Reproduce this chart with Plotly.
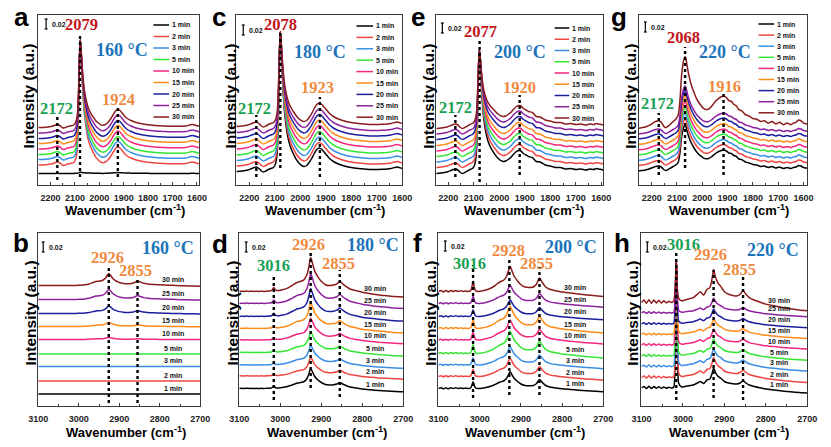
import numpy as np
import plotly.graph_objects as go

W, H = 831, 447

TIMES = ["1 min", "2 min", "3 min", "5 min", "10 min", "15 min", "20 min", "25 min", "30 min"]
COLORS = ["#000000", "#ee4540", "#3a8ee6", "#35e635", "#f2287e", "#ff8c1a",
          "#1d1d9e", "#8f209e", "#8a1c1c"]

# ---------------- wavenumber grids (cm-1) ----------------
X_TOP = [2250, 2235, 2220, 2205, 2190, 2180, 2172, 2162, 2152, 2145,
         2135, 2125, 2115, 2105, 2097, 2090, 2085, 2081, 2078, 2075,
         2071, 2066, 2060, 2052, 2044, 2035, 2025, 2015, 2005, 1995,
         1985, 1975, 1965, 1955, 1945, 1935, 1925, 1915, 1905, 1895,
         1885, 1870, 1855, 1840, 1820, 1800, 1780, 1760, 1740, 1720,
         1700, 1680, 1660, 1645, 1630, 1620, 1612, 1600, 1590, 1575,
         1560]
X_G = [2255, 2240, 2225, 2210, 2195, 2185, 2172, 2162, 2152, 2145,
       2135, 2125, 2115, 2105, 2095, 2088, 2082, 2076, 2072, 2068,
       2064, 2060, 2052, 2044, 2035, 2025, 2015, 2005, 1995, 1985,
       1975, 1965, 1955, 1945, 1935, 1925, 1916, 1905, 1895, 1885,
       1875, 1865, 1855, 1845, 1830, 1815, 1800, 1785, 1770, 1755,
       1740, 1725, 1710, 1695, 1680, 1665, 1650, 1640, 1630, 1620,
       1610, 1600, 1590, 1575, 1560]
X_BOT = [3100, 3094, 3088, 3082, 3076, 3070, 3064, 3058, 3052, 3046,
         3040, 3034, 3028, 3022, 3019, 3016, 3013, 3010, 3003, 2995,
         2985, 2975, 2965, 2958, 2950, 2942, 2935, 2930, 2926, 2922,
         2916, 2908, 2900, 2890, 2880, 2870, 2862, 2855, 2848, 2840,
         2830, 2815, 2800, 2780, 2760, 2740, 2720, 2700]

# ---------------- main band profiles (normalised) ----------------
PEAK_ACE = [0] * 14 + [0.02, 0.1, 0.4, 0.82, 1.0, 0.9, 0.7, 0.5, 0.34, 0.22,
                       0.14, 0.09, 0.055, 0.03, 0.015, 0.005] + [0] * 31
PEAK_G = [0] * 14 + [0.05, 0.3, 0.7, 0.9, 0.97, 1.0, 0.93, 0.8, 0.58, 0.42,
                     0.3, 0.2, 0.13, 0.08, 0.04, 0.02] + [0] * 35
PEAK_H = [0] * 14 + [0.25, 1.0, 0.25, 0.02] + [0] * 30
NO_PEAK = [0] * 48

# ---------------- background spectra (mAU) ----------------
A_SHAPE = [0, 0, 0.6, 1.4, 3, 5, 6, 4, 0, -1,
           1, 2.6, 3.4, 5, 7, 9, 10, 11, 12, 13,
           14, 15, 16, 16, 15, 14, 12, 9, 7, 5,
           4.6, 6, 10, 16, 24, 32, 36, 34, 28, 22,
           18, 14, 11, 9, 7, 5.4, 4.4, 3.6, 3, 2.6,
           2.4, 2.4, 2.6, 3, 5, 6, 5.4, 3.4, 2.4, 2, 2]
C_SHAPE = [0, 0.6, 1.6, 3, 6, 8, 9, 6, 1, -1,
           1, 4, 6, 8, 10, 13, 15, 17, 18, 19,
           20, 21, 22, 22, 22, 21, 19, 16, 13, 11,
           10, 12, 18, 26, 36, 44, 47, 44, 38, 32,
           26, 20, 16, 13, 10, 8, 6.4, 5.4, 4.6, 4,
           4, 4.4, 5, 6, 8, 9, 8, 6, 5, 4, 4]
E_SHAPE = [0, 0.6, 1.6, 3, 6, 8, 9, 7, 2, 0,
           2, 5, 8, 10, 12, 15, 18, 20, 22, 24,
           26, 28, 30, 32, 33, 33, 32, 30, 27, 25,
           24, 25, 28, 32, 38, 43, 46, 45, 40, 37,
           34, 32, 24, 23, 17, 15, 12, 12, 9, 10,
           8, 9, 7, 9, 8, 10, 9, 8, 7, 6, 6]
G_SHAPE = [0, 1, 2, 4, 7, 9, 10, 8, 3, 1,
           3, 6, 9, 12, 14, 16, 18, 20, 21, 22,
           23, 24, 26, 27, 27, 26, 25, 24, 23, 23,
           25, 28, 32, 36, 39, 41, 42, 40, 36, 35,
           31, 29, 24, 23, 18, 16, 13, 12, 9, 10,
           7, 9, 6, 8, 5, 7, 5, 7, 8, 11,
           10, 7, 6, 5, 4]
B_SHAPE = [0] * 18 + [0.4, 0.6, 1.4, 3, 6, 8, 8.6, 10, 14, 20,
                      24, 21, 14, 9, 6, 4, 3.4, 4, 6, 9.4,
                      7, 4.4, 3, 2, 1.4, 0.6, 0, -0.6, -1, -1.4]
D_SHAPE = [0, 0.4, 0, 0.6, 0, 0.4, 0, 0.4, 0, 0.4,
           0, 0.4, 0.6, 1, 2.5, 4.6, 2.5, 1.2, 1.2, 2,
           3.4, 6, 9, 11, 12, 14, 20, 30, 40, 34,
           24, 17, 12, 8, 7, 7.6, 9, 12, 9, 6,
           3, 1, -1, -2.6, -4, -5, -6, -6.6]
F_SHAPE = [0, 1.4, -0.6, 1.4, -0.6, 1.4, 0, 1.4, 0, 1,
           0, 0.6, 0, 1, 6, 13.4, 6, 1, 0, 0.6,
           2, 4, 7, 10, 13, 15, 20, 28, 33.4, 28,
           20, 14, 9, 6, 5.4, 6, 10, 18, 12, 6,
           3, 1, -0.6, -2, -3.4, -4.6, -5.6, -6.6]
H_SHAPE = [0, 3, -1, 3.4, -1, 3, -0.6, 2.6, -0.6, 2,
           -0.4, 1.4, 0, 2, 2, 2, 2, 4, 2, 3,
           4.6, 6, 10, 13, 9, 16, 18, 28, 40, 32,
           24, 19, 13, 10, 8.6, 8, 10, 14.6, 10, 6,
           3.4, 0.6, -2, -4, -6, -7.6, -9, -10]

# ---------------- per-series stacking offsets, scales, band heights (mAU) ----------------
A_OFFSET = [23, 40, 51, 61, 72, 83, 93, 104, 115]
A_SCALE = [0.05, 1, 1, 1, 1, 1, 1, 1, 1]
A_PEAKH = [2, 238, 227, 217, 206, 195, 185, 174, 163]
C_OFFSET = [27, 38, 49, 60, 72, 83, 94, 105, 117]
C_SCALE = [1, 1, 1, 1, 1, 1, 1, 1, 1]
C_PEAKH = [262, 251, 239, 228, 217, 206, 194, 183, 172]
E_OFFSET = [23, 35, 46, 57, 68, 79, 91, 102, 113]
E_SCALE = [1, 1, 1, 1, 1, 1, 1, 1, 1]
E_PEAKH = [225, 213, 202, 191, 180, 169, 157, 146, 135]
G_OFFSET = [28, 39, 49, 60, 70, 81, 92, 102, 113]
G_SCALE = [1, 1, 1, 1, 1, 1, 1, 1, 1.55]
G_PEAKH = [70, 72, 74, 74, 76, 76, 76, 74, 110]
B_OFFSET = [24, 50, 79, 104, 133, 159, 185, 213, 241]
B_SCALE = [0, 0, 0, 0, 0.17, 0.34, 0.63, 0.85, 1.0]
D_OFFSET = [35, 60, 82, 107, 132, 155, 179, 205, 229]
D_SCALE = [1, 0.95, 1, 1.05, 1.1, 1.3, 1.4, 1.5, 1.7]
F_OFFSET = [35, 59, 82, 105, 132, 155, 179, 205, 229]
F_SCALE = [1, 1.1, 1.1, 1.35, 1.2, 1.35, 1.0, 1.1, 1.5]
H_OFFSET = [36, 57, 79, 100, 122, 143, 164, 186, 207]
H_SCALE = [1, 1, 0.9, 0.85, 0.8, 0.8, 0.75, 0.75, 1.65]
H_PEAKH = [254, 233, 211, 190, 168, 147, 126, 104, 83]
ZERO9 = [0] * 9

# labelled band positions (cm-1)
A_BANDS = [2172, 2079, 1924]
C_BANDS = [2172, 2078, 1923]
E_BANDS = [2172, 2077, 1920]
G_BANDS = [2172, 2068, 1916]
B_BANDS = [2926, 2855]
D_BANDS = [3016, 2926, 2855]
F_BANDS = [3016, 2928, 2855]
H_BANDS = [3016, 2926, 2855]
TEMPS = ["160 °C", "180 °C", "200 °C", "220 °C"]

GREEN, RED, ORANGE, BLUE = "#1aa153", "#c0141a", "#ef8a3e", "#1b74bb"

# layout description (pixel positions)
PANELS = [
    dict(letter="a", row=0, x=X_TOP, shape=A_SHAPE, peak=PEAK_ACE, off=A_OFFSET, sc=A_SCALE, ph=A_PEAKH,
         xr=[2250, 1590], dom=(29, 194), lpos=(12, 0), temp=TEMPS[0], tpos=(115, 50),
         bands=A_BANDS, bcol=[GREEN, RED, ORANGE], bpos=[(48, 108), (73, 25), (111, 99)],
         dots=[(180, 114), (177, 33), (177, 105)], sbar=(37, 24), ytx=18, xtx=118,
         leg=(147, 163, 25, 11.5)),
    dict(letter="c", row=0, x=X_TOP, shape=C_SHAPE, peak=PEAK_ACE, off=C_OFFSET, sc=C_SCALE, ph=C_PEAKH,
         xr=[2250, 1600], dom=(232, 402), lpos=(214, 0), temp=TEMPS[1], tpos=(318, 52),
         bands=C_BANDS, bcol=[GREEN, RED, ORANGE], bpos=[(251, 108), (277, 25), (315, 87)],
         dots=[(177, 115), (168, 32), (177, 97)], sbar=(239, 30), ytx=225, xtx=323,
         leg=(355, 372, 26, 11.4)),
    dict(letter="e", row=0, x=X_TOP, shape=E_SHAPE, peak=PEAK_ACE, off=E_OFFSET, sc=E_SCALE, ph=E_PEAKH,
         xr=[2246, 1592], dom=(437, 608), lpos=(418, 0), temp=TEMPS[2], tpos=(523, 52),
         bands=E_BANDS, bcol=[GREEN, RED, ORANGE], bpos=[(456, 107), (482, 32), (522, 88)],
         dots=[(177, 115), (182, 38), (175, 95)], sbar=(443, 28), ytx=428, xtx=527,
         leg=(558, 573, 28, 11.25)),
    dict(letter="g", row=0, x=X_G, shape=G_SHAPE, peak=PEAK_G, off=G_OFFSET, sc=G_SCALE, ph=G_PEAKH,
         xr=[2252, 1585], dom=(644, 817), lpos=(624, 0), temp=TEMPS[3], tpos=(733, 52),
         bands=G_BANDS, bcol=[GREEN, RED, ORANGE], bpos=[(663, 104), (690, 38), (732, 86)],
         dots=[(175, 113), (168, 47), (175, 93)], sbar=(651, 27), ytx=635, xtx=737,
         leg=(767, 783, 24, 11.1)),
    dict(letter="b", row=1, x=X_BOT, shape=B_SHAPE, peak=NO_PEAK, off=B_OFFSET, sc=B_SCALE, ph=ZERO9,
         xr=[3100, 2700], dom=(29, 195), lpos=(11, 226), temp=TEMPS[0], tpos=(162, 248),
         bands=B_BANDS, bcol=[ORANGE, ORANGE], bpos=[(100, 257), (129, 270)],
         dots=[(403, 268), (403, 278)], sbar=(34, 247), ytx=20, xtx=119),
    dict(letter="d", row=1, x=X_BOT, shape=D_SHAPE, peak=NO_PEAK, off=D_OFFSET, sc=D_SCALE, ph=ZERO9,
         xr=[3100, 2700], dom=(235, 403), lpos=(215, 227), temp=TEMPS[1], tpos=(372, 245),
         bands=D_BANDS, bcol=[GREEN, ORANGE, ORANGE], bpos=[(270, 265), (306, 244), (337, 263)],
         dots=[(400, 275), (388, 252), (397, 270)], sbar=(242, 247), ytx=227, xtx=325),
    dict(letter="f", row=1, x=X_BOT, shape=F_SHAPE, peak=NO_PEAK, off=F_OFFSET, sc=F_SCALE, ph=ZERO9,
         xr=[3100, 2700], dom=(439, 608), lpos=(418, 226), temp=TEMPS[2], tpos=(575, 247),
         bands=F_BANDS, bcol=[GREEN, ORANGE, ORANGE], bpos=[(471, 263), (511, 250), (539, 263)],
         dots=[(398, 265), (395, 258), (395, 267)], sbar=(446, 246), ytx=430, xtx=528),
    dict(letter="h", row=1, x=X_BOT, shape=H_SHAPE, peak=PEAK_H, off=H_OFFSET, sc=H_SCALE, ph=H_PEAKH,
         xr=[3100, 2700], dom=(647, 817), lpos=(627, 226), temp=TEMPS[3], tpos=(782, 250),
         bands=H_BANDS, bcol=[GREEN, ORANGE, ORANGE], bpos=[(690, 244), (718, 255), (748, 269)],
         dots=[(400, 252), (398, 270), (400, 277)], sbar=(653, 247), ytx=637, xtx=737),
]

ROWS = {0: dict(top=15, bot=185, yr=0.34, xtitle_y=210, ytitle_y=96),
        1: dict(top=233, bot=406, yr=0.346, xtitle_y=432, ytitle_y=313)}

SANS = "Liberation Sans, Arial, sans-serif"
SERIF = "Liberation Serif, Times New Roman, serif"
FRAME = "#3a3a3a"


def px(xp):
    return xp / W


def py(yp):
    return 1 - yp / H


fig = go.Figure()
annotations = []
shapes = []
layout = {}

for i, p in enumerate(PANELS):
    n = i + 1
    sfx = "" if n == 1 else str(n)
    xa, ya = "x" + sfx, "y" + sfx
    r = ROWS[p["row"]]
    x = np.array(p["x"], dtype=float)
    shp = np.array(p["shape"], dtype=float)
    pk = np.array(p["peak"], dtype=float)

    for j in range(9):
        y = (p["off"][j] + p["sc"][j] * shp + p["ph"][j] * pk) / 1000.0
        fig.add_trace(go.Scatter(x=x, y=y, mode="lines", xaxis=xa, yaxis=ya,
                                 line=dict(color=COLORS[j], width=1.5, shape="spline", smoothing=0.6),
                                 showlegend=False, hoverinfo="skip", name=TIMES[j]))
        if p["row"] == 1:
            ylab = float(np.interp(2768, x[::-1], y[::-1]))
            annotations.append(dict(x=2768, y=ylab, xref=xa, yref=ya, text="<b>%s</b>" % TIMES[j],
                                    showarrow=False, yshift=6, xanchor="center", yanchor="middle",
                                    font=dict(family=SANS, size=7, color="#111")))

    if p["row"] == 0:
        tv = [2200, 2100, 2000, 1900, 1800, 1700, 1600]
    else:
        tv = [3100, 3000, 2900, 2800, 2700]
    layout["xaxis" + sfx] = dict(domain=[px(p["dom"][0]), px(p["dom"][1])], range=p["xr"], anchor=ya,
                                 showgrid=False, zeroline=False, showline=True, mirror=True,
                                 linecolor=FRAME, linewidth=1, ticks="inside", ticklen=3,
                                 tickcolor=FRAME, tickvals=tv, ticktext=[str(v) for v in tv],
                                 minor=dict(ticks="inside", ticklen=2, tickcolor=FRAME, dtick=50, tick0=0),
                                 tickfont=dict(family=SANS, size=9, color="#222", weight="bold"),
                                 ticklabelstandoff=4)
    layout["yaxis" + sfx] = dict(domain=[py(r["bot"]), py(r["top"])], range=[0, r["yr"]], anchor=xa,
                                 showgrid=False, zeroline=False, showline=True, mirror=True,
                                 linecolor=FRAME, linewidth=1, ticks="", showticklabels=False)

    def ydata(yp, r=r):
        return (r["bot"] - yp) / (r["bot"] - r["top"]) * r["yr"]

    # dotted guide lines at labelled bands
    for band, (yb, yt) in zip(p["bands"], p["dots"]):
        shapes.append(dict(type="line", xref=xa, yref="paper", x0=band, x1=band, y0=py(yb), y1=py(yt),
                           line=dict(color="#000", width=2.4, dash="dot")))
    # band labels
    for band, col, (lx, ly) in zip(p["bands"], p["bcol"], p["bpos"]):
        annotations.append(dict(x=px(lx), y=py(ly), xref="paper", yref="paper", text="<b>%d</b>" % band,
                                showarrow=False, xanchor="center", yanchor="middle",
                                font=dict(family=SERIF, size=16.5, color=col)))
    # temperature
    annotations.append(dict(x=px(p["tpos"][0]), y=py(p["tpos"][1]), xref="paper", yref="paper",
                            text="<b>%s</b>" % p["temp"], showarrow=False, xanchor="center",
                            yanchor="middle", font=dict(family=SERIF, size=18, color=BLUE)))
    # panel letter
    annotations.append(dict(x=px(p["lpos"][0]), y=py(p["lpos"][1]), xref="paper", yref="paper",
                            text="<b>%s</b>" % p["letter"], showarrow=False, xanchor="center",
                            yanchor="top", font=dict(family=SANS, size=26, color="#000")))
    # axis titles
    annotations.append(dict(x=px(p["xtx"]), y=py(r["xtitle_y"]), xref="paper", yref="paper",
                            text="<b>Wavenumber (cm<sup>-1</sup>)</b>", showarrow=False,
                            xanchor="center", yanchor="middle",
                            font=dict(family=SANS, size=13, color="#000")))
    annotations.append(dict(x=px(p["ytx"]), y=py(r["ytitle_y"]), xref="paper", yref="paper",
                            text="<b>Intensity (a.u.)</b>", showarrow=False, textangle=-90,
                            xanchor="center", yanchor="middle",
                            font=dict(family=SANS, size=15.5, color="#000")))
    # 0.02 scale bar
    bx, by = p["sbar"]
    yc = ydata(by)
    for (xx0, xx1, yy0, yy1) in [(bx, bx, yc - 0.01, yc + 0.01),
                                 (bx - 1.5, bx + 1.5, yc - 0.01, yc - 0.01),
                                 (bx - 1.5, bx + 1.5, yc + 0.01, yc + 0.01)]:
        shapes.append(dict(type="line", xref="paper", yref=ya, x0=px(xx0), x1=px(xx1), y0=yy0, y1=yy1,
                           line=dict(color="#000", width=1.2)))
    annotations.append(dict(x=px(bx + 3.5), y=py(by), xref="paper", yref="paper", text="<b>0.02</b>",
                            showarrow=False, xanchor="left", yanchor="middle",
                            font=dict(family=SANS, size=7, color="#111")))
    # legend (top row)
    if "leg" in p:
        l0, l1, ly0, dy = p["leg"]
        for j in range(9):
            yy = ly0 + j * dy
            shapes.append(dict(type="line", xref="paper", yref="paper", x0=px(l0), x1=px(l1),
                               y0=py(yy), y1=py(yy), line=dict(color=COLORS[j], width=1.5)))
            annotations.append(dict(x=px(l1 + 1), y=py(yy), xref="paper", yref="paper",
                                    text="<b>%s</b>" % TIMES[j], showarrow=False, xanchor="left",
                                    yanchor="middle", font=dict(family=SANS, size=7, color="#111")))

fig.update_layout(width=W, height=H, margin=dict(l=0, r=0, t=0, b=0),
                  paper_bgcolor="white", plot_bgcolor="white",
                  annotations=annotations, shapes=shapes, showlegend=False, **layout)

fig.write_html("out.html", config={"displayModeBar": False},
               post_script="document.body.style.margin='0';document.body.style.overflow='hidden';")
